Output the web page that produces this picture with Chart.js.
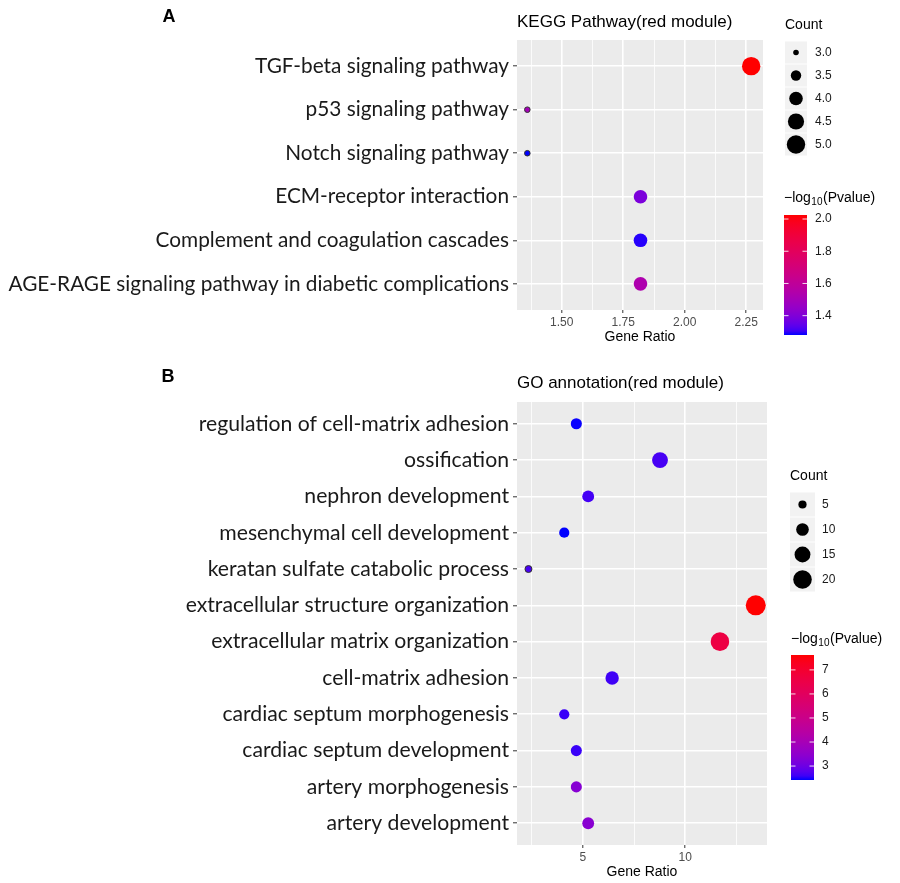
<!DOCTYPE html>
<html>
<head>
<meta charset="utf-8">
<script src="https://cdn.jsdelivr.net/npm/chart.js@4"></script>
<style>
  body { margin: 0; background: #fff; }
  .wrap { position: absolute; left: 0; }
</style>
</head>
<body>
<div class="wrap" style="top:0"><canvas id="chartA" width="900" height="348"></canvas></div>
<div class="wrap" style="top:360px"><canvas id="chartB" width="900" height="523"></canvas></div>
<script>
// --- panel A: KEGG
const keggTerms = [
  'TGF-beta signaling pathway',
  'p53 signaling pathway',
  'Notch signaling pathway',
  'ECM-receptor interaction',
  'Complement and coagulation cascades',
  'AGE-RAGE signaling pathway in diabetic complications'
];
const keggRatio = [2.27, 1.36, 1.36, 1.82, 1.82, 1.82];
const keggCount = [5, 3, 3, 4, 4, 4];
const keggLogP = [2.025, 1.50, 1.28, 1.39, 1.29, 1.53];
const keggMajor = [1.5, 1.75, 2.0, 2.25];
const keggMinor = [1.375, 1.625, 1.875, 2.125];
const keggSizeBreaks = [3.0, 3.5, 4.0, 4.5, 5.0];
const keggColorBreaks = [1.4, 1.6, 1.8, 2.0];

// --- panel B: GO
const goTerms = [
  'regulation of cell-matrix adhesion',
  'ossification',
  'nephron development',
  'mesenchymal cell development',
  'keratan sulfate catabolic process',
  'extracellular structure organization',
  'extracellular matrix organization',
  'cell-matrix adhesion',
  'cardiac septum morphogenesis',
  'cardiac septum development',
  'artery morphogenesis',
  'artery development'
];
const goRatio = [4.68, 8.77, 5.26, 4.09, 2.34, 13.45, 11.70, 6.43, 4.09, 4.68, 4.68, 5.26];
const goCount = [8, 15, 9, 7, 4, 23, 20, 11, 7, 8, 8, 9];
const goLogP = [2.43, 2.65, 2.63, 2.42, 2.66, 7.62, 6.6, 2.6, 2.57, 2.57, 3.36, 3.4];
const goMajor = [5, 10];
const goMinor = [2.5, 7.5, 12.5];
const goSizeBreaks = [5, 10, 15, 20];
const goColorBreaks = [3, 4, 5, 6, 7];

const SANS = '"Liberation Sans", Arial, sans-serif';
const LABEL_FONT = 'Lato';

// blue -> red gradient through Lab, like ggplot
function lin(c) { c /= 255; return c <= 0.04045 ? c / 12.92 : Math.pow((c + 0.055) / 1.055, 2.4); }
function gam(c) { c = Math.min(1, Math.max(0, c)); const v = c <= 0.0031308 ? 12.92 * c : 1.055 * Math.pow(c, 1 / 2.4) - 0.055; return Math.round(v * 255); }
function toLab(r, g, b) {
  const R = lin(r), G = lin(g), B = lin(b);
  const X = (0.4124 * R + 0.3576 * G + 0.1805 * B) / 0.95047;
  const Y = 0.2126 * R + 0.7152 * G + 0.0722 * B;
  const Z = (0.0193 * R + 0.1192 * G + 0.9505 * B) / 1.08883;
  const f = t => t > 0.008856 ? Math.cbrt(t) : 7.787 * t + 16 / 116;
  return [116 * f(Y) - 16, 500 * (f(X) - f(Y)), 200 * (f(Y) - f(Z))];
}
function fromLab(L, a, b) {
  const fy = (L + 16) / 116, fx = fy + a / 500, fz = fy - b / 200;
  const inv = t => t * t * t > 0.008856 ? t * t * t : (t - 16 / 116) / 7.787;
  const X = inv(fx) * 0.95047, Y = inv(fy), Z = inv(fz) * 1.08883;
  const R = 3.2406 * X - 1.5372 * Y - 0.4986 * Z;
  const G = -0.9689 * X + 1.8758 * Y + 0.0415 * Z;
  const B = 0.0557 * X - 0.2040 * Y + 1.0570 * Z;
  return 'rgb(' + gam(R) + ',' + gam(G) + ',' + gam(B) + ')';
}
const LOW = toLab(0, 0, 255), HIGH = toLab(255, 0, 0);
function mix(t) {
  t = Math.min(1, Math.max(0, t));
  return fromLab(LOW[0] + (HIGH[0] - LOW[0]) * t, LOW[1] + (HIGH[1] - LOW[1]) * t, LOW[2] + (HIGH[2] - LOW[2]) * t);
}

function sizer(counts, rMin, rMax) {
  const lo = Math.min(...counts), hi = Math.max(...counts);
  return c => Math.sqrt(rMin * rMin + (rMax * rMax - rMin * rMin) * (c - lo) / (hi - lo));
}

const panelBg = {
  id: 'panelBg',
  beforeDraw(chart) {
    const { ctx, chartArea: a } = chart;
    ctx.save();
    ctx.fillStyle = '#EBEBEB';
    ctx.fillRect(a.left, a.top, a.right - a.left, a.bottom - a.top);
    ctx.restore();
  }
};

const sideLegend = {
  id: 'sideLegend',
  afterDraw(chart, args, o) {
    const ctx = chart.ctx;
    ctx.save();
    ctx.textBaseline = 'middle';
    ctx.fillStyle = '#000';
    ctx.textAlign = 'center';
    ctx.font = 'bold 18px ' + SANS;
    ctx.fillText(o.letter, o.letterX, o.letterY);
    ctx.textAlign = 'left';
    ctx.font = '17px ' + SANS;
    ctx.fillText(o.title, chart.chartArea.left, o.titleY);

    // size legend
    ctx.font = '14px ' + SANS;
    ctx.fillText('Count', o.keyX, o.countY);
    o.sizeBreaks.forEach((b, i) => {
      const top = o.keyTop + o.keyH * i;
      const cy = top + o.keyH / 2;
      ctx.fillStyle = '#F2F2F2';
      ctx.fillRect(o.keyX, top + 0.5, o.keyW, o.keyH - 1);
      ctx.fillStyle = '#000';
      ctx.beginPath();
      ctx.arc(o.keyX + o.keyW / 2, cy, o.radius(b), 0, Math.PI * 2);
      ctx.fill();
      ctx.fillStyle = '#1a1a1a';
      ctx.font = '12px ' + SANS;
      ctx.fillText(o.sizeFmt(b), o.labelX, cy);
    });

    // colour bar
    ctx.fillStyle = '#000';
    let x = o.barX;
    ctx.font = '14px ' + SANS;
    ctx.fillText('\u2212log', x, o.cTitleY);
    x += ctx.measureText('\u2212log').width + 0.5;
    ctx.font = '10px ' + SANS;
    ctx.fillText('10', x, o.cTitleY + 4);
    x += ctx.measureText('10').width + 0.5;
    ctx.font = '14px ' + SANS;
    ctx.fillText('(Pvalue)', x, o.cTitleY);

    const grad = ctx.createLinearGradient(0, o.barBottom, 0, o.barTop);
    for (let k = 0; k <= 30; k++) grad.addColorStop(k / 30, mix(k / 30));
    ctx.fillStyle = grad;
    ctx.fillRect(o.barX, o.barTop, o.barW, o.barBottom - o.barTop);
    ctx.strokeStyle = 'rgba(255,255,255,0.85)';
    ctx.lineWidth = 1;
    ctx.font = '12px ' + SANS;
    o.colorBreaks.forEach(v => {
      const y = o.barBottom - (v - o.cMin) / (o.cMax - o.cMin) * (o.barBottom - o.barTop);
      ctx.beginPath();
      ctx.moveTo(o.barX, y); ctx.lineTo(o.barX + 4.5, y);
      ctx.moveTo(o.barX + o.barW - 4.5, y); ctx.lineTo(o.barX + o.barW, y);
      ctx.stroke();
      ctx.fillStyle = '#1a1a1a';
      ctx.fillText(o.colorFmt(v), o.labelX, y);
    });
    ctx.restore();
  }
};

function makeChart(id, cfg) {
  const radius = sizer(cfg.count, cfg.rMin, cfg.rMax);
  const cMin = Math.min(...cfg.logp), cMax = Math.max(...cfg.logp);
  const color = v => mix((v - cMin) / (cMax - cMin));
  const isMajor = v => cfg.major.indexOf(v) >= 0;
  return new Chart(document.getElementById(id), {
    type: 'scatter',
    data: {
      datasets: [{
        data: cfg.ratio.map((r, i) => ({ x: r, y: i })),
        pointRadius: ctx => radius(cfg.count[ctx.dataIndex]),
        pointBackgroundColor: ctx => color(cfg.logp[ctx.dataIndex]),
        pointBorderColor: '#333',
        pointBorderWidth: ctx => radius(cfg.count[ctx.dataIndex]) < 4.5 ? 1 : 0,
        clip: false
      }]
    },
    options: {
      responsive: false,
      animation: false,
      layout: { padding: { top: cfg.padTop, right: cfg.padRight, left: 0, bottom: 0 } },
      scales: {
        x: {
          type: 'linear',
          min: cfg.xMin,
          max: cfg.xMax,
          afterBuildTicks: axis => { axis.ticks = cfg.major.concat(cfg.minor).sort((a, b) => a - b).map(v => ({ value: v })); },
          afterFit: axis => { axis.height = 38; },
          ticks: {
            autoSkip: false,
            maxRotation: 0,
            padding: 2,
            color: '#4D4D4D',
            font: { family: SANS, size: 12 },
            callback: v => isMajor(v) ? cfg.xFmt(v) : ''
          },
          grid: {
            color: '#FFFFFF',
            lineWidth: ctx => ctx.tick && isMajor(ctx.tick.value) ? 1.6 : 0.8,
            tickColor: ctx => ctx.tick && isMajor(ctx.tick.value) ? '#333' : 'rgba(0,0,0,0)',
            tickLength: 3,
            tickWidth: 1
          },
          border: { display: false },
          title: {
            display: true,
            text: 'Gene Ratio',
            color: '#000',
            font: { family: SANS, size: 14 },
            padding: { top: 0, bottom: 2 }
          }
        },
        y: {
          type: 'linear',
          reverse: true,
          min: -0.6,
          max: cfg.terms.length - 0.4,
          afterBuildTicks: axis => { axis.ticks = cfg.terms.map((t, i) => ({ value: i })); },
          afterFit: axis => { axis.width = 517; },
          ticks: {
            autoSkip: false,
            padding: 4,
            color: '#1a1a1a',
            font: { family: LABEL_FONT, size: cfg.labelSize },
            callback: v => cfg.terms[v]
          },
          grid: {
            color: '#FFFFFF',
            lineWidth: 1.6,
            tickColor: '#333',
            tickLength: 4,
            tickWidth: 1
          },
          border: { display: false }
        }
      },
      plugins: {
        legend: { display: false },
        tooltip: { enabled: false },
        sideLegend: Object.assign({}, cfg.legend, {
          radius: radius, cMin: cMin, cMax: cMax
        })
      }
    },
    plugins: [panelBg, sideLegend]
  });
}

makeChart('chartA', {
  terms: keggTerms, ratio: keggRatio, count: keggCount, logp: keggLogP,
  major: keggMajor, minor: keggMinor, xMin: 1.318, xMax: 2.318,
  xFmt: v => v.toFixed(2), rMin: 2.8, rMax: 9.2, labelSize: 20.8,
  padTop: 40, padRight: 137,
  legend: {
    letter: 'A', letterX: 169, letterY: 17, title: 'KEGG Pathway(red module)', titleY: 22,
    keyX: 785, keyW: 22, keyTop: 41, keyH: 23, countY: 25, labelX: 815,
    sizeBreaks: keggSizeBreaks, sizeFmt: v => v.toFixed(1),
    cTitleY: 198, barX: 784, barW: 23, barTop: 215, barBottom: 335,
    colorBreaks: keggColorBreaks, colorFmt: v => v.toFixed(1)
  }
});

makeChart('chartB', {
  terms: goTerms, ratio: goRatio, count: goCount, logp: goLogP,
  major: goMajor, minor: goMinor, xMin: 1.78, xMax: 14.0,
  xFmt: v => String(v), rMin: 3.5, rMax: 10, labelSize: 21.2,
  padTop: 42, padRight: 133,
  legend: {
    letter: 'B', letterX: 168, letterY: 17, title: 'GO annotation(red module)', titleY: 23,
    keyX: 790, keyW: 25, keyTop: 132, keyH: 25, countY: 116, labelX: 822,
    sizeBreaks: goSizeBreaks, sizeFmt: v => String(v),
    cTitleY: 279, barX: 791, barW: 23, barTop: 295, barBottom: 420,
    colorBreaks: goColorBreaks, colorFmt: v => String(v)
  }
});
</script>
</body>
</html>
